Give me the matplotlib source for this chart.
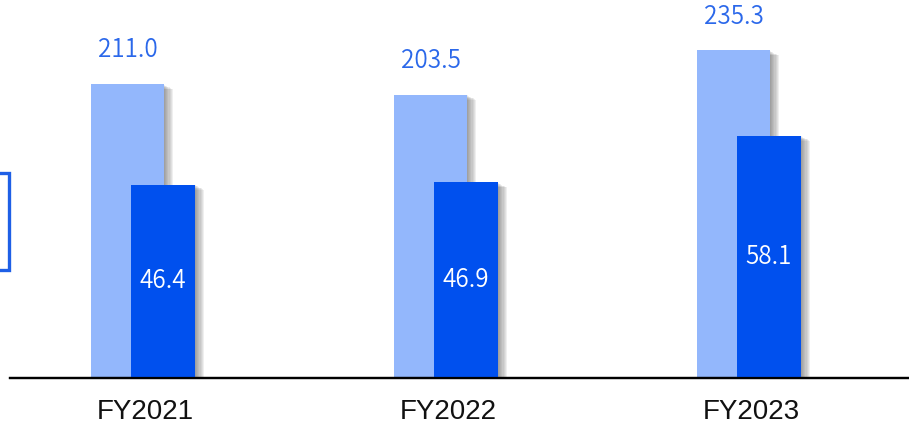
import numpy as np
import matplotlib
matplotlib.use("Agg")
import matplotlib.pyplot as plt
import matplotlib.patheffects as pe
from matplotlib.patches import Rectangle

years = ["FY2021", "FY2022", "FY2023"]
total = [211.0, 203.5, 235.3]
part = [46.4, 46.9, 58.1]

light = "#93B7FC"
dark = "#0050EE"
label_blue = "#2B68EA"

W, H = 909, 425
fig = plt.figure(figsize=(W / 100, H / 100), dpi=100)

# axes box in pixels: baseline at y=378, starts at x=10
ax = fig.add_axes([10 / W, (H - 378) / H, (W - 10) / W, 378 / H])
ax2 = ax.twinx()

x = np.arange(len(years))
px = 1 / 303.0  # one group spacing = 303 px
ax.set_xlim(-135 * px, (W - 145) * px)
ax.set_ylim(0, 378 / 1.392)
ax2.set_ylim(0, 378 / 4.17)


def shadow():
    fx = [pe.SimplePatchShadow(offset=(k * 0.8, -k * 0.45), shadow_rgbFace="#4a4a4a", alpha=0.085)
          for k in range(1, 9)]
    return fx + [pe.Normal()]


b1 = ax.bar(x - 17.5 * px, total, width=73 * px, color=light, zorder=2)
b2 = ax2.bar(x + 18 * px, part, width=64 * px, color=dark, zorder=2)
for b in list(b1) + list(b2):
    b.set_path_effects(shadow())

num_font = dict(fontsize=17.5, fontweight=350, family=["Noto Sans CJK JP", "DejaVu Sans"])
for xi, v in zip(x, total):
    ax.annotate(f"{v:.1f}", (xi - 17.5 * px, v), xytext=(0, 15), textcoords="offset points",
                ha="center", va="bottom", color=label_blue, **num_font)
for xi, v in zip(x, part):
    ax2.text(xi + 18 * px, v / 2, f"{v:.1f}", ha="center", va="center", color="white", **num_font)

ax.set_xticks(x)
ax.set_xticklabels(years, fontsize=20, family="Liberation Sans", color="#111111")
ax.tick_params(axis="x", length=0, pad=15)
ax.set_yticks([])
ax2.set_yticks([])
for a in (ax, ax2):
    for s in ("top", "left", "right"):
        a.spines[s].set_visible(False)
    a.spines["bottom"].set_linewidth(1.6)
    a.spines["bottom"].set_color("black")
    a.patch.set_visible(False)

# box cut off at the left edge
fig.patches.append(Rectangle((-10 / W, (H - 270) / H), 19 / W, 97 / H,
                             transform=fig.transFigure, fill=False,
                             edgecolor="#1E5FE6", linewidth=2.4))

fig.savefig("out.png", dpi=100)
